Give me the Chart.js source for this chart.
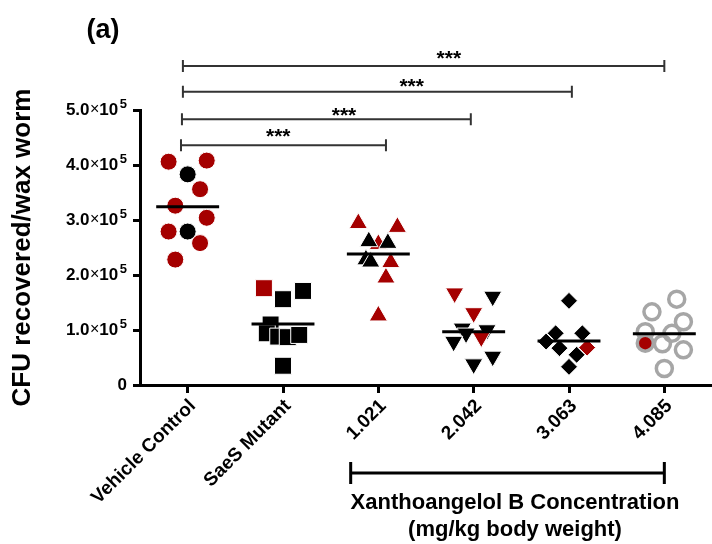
<!DOCTYPE html>
<html>
<head>
<meta charset="utf-8">
<script src="https://cdn.jsdelivr.net/npm/chart.js@4.4.1/dist/chart.umd.min.js"></script>
<style>
  body { margin: 0; background: #fff; }
  #wrap { width: 712px; height: 544px; }
</style>
</head>
<body>
<div id="wrap"><canvas id="cfuChart" width="712" height="544"></canvas></div>
<script>
const groupLabels = ['Vehicle Control', 'SaeS Mutant', '1.021', '2.042', '3.063', '4.085'];
const yTickValues = [0, 1e5, 2e5, 3e5, 4e5, 5e5];
const yTickMantissa = ['0', '1.0', '2.0', '3.0', '4.0', '5.0'];

// CFU per worm, in units of 10^5
const vehicleValues = [4.06, 4.08, 3.83, 3.56, 3.26, 3.04, 2.79, 2.79, 2.58, 2.28];
const vehicleSpread = [-0.2, 0.2, 0, 0.13, -0.13, 0.2, -0.2, 0, 0.13, -0.13];
const vehicleRed = [1, 1, 0, 1, 1, 1, 1, 0, 1, 1];

const mutantValues = [1.76, 1.71, 1.56, 1.10, 0.94, 0.88, 0.87, 0.91, 0.35];
const mutantSpread = [-0.2, 0.21, 0, -0.13, -0.17, -0.05, 0.05, 0.17, 0];
const mutantRed = [1, 0, 0, 0, 0, 0, 0, 0, 0];

const dose1Values = [2.56, 2.94, 2.87, 2.61, 2.58, 2.28, 2.24, 2.23, 1.95, 1.26];
const dose1Spread = [0, -0.21, 0.2, -0.1, 0.1, -0.13, -0.08, 0.13, 0.08, 0];
const dose1Red = [1, 1, 1, 0, 0, 0, 0, 1, 1, 1];

const dose2Values = [1.67, 1.61, 1.31, 1.03, 1.00, 0.94, 0.79, 0.87, 0.52, 0.38];
const dose2Spread = [-0.2, 0.2, 0, -0.12, 0.14, -0.08, -0.21, 0.08, 0.2, 0];
const dose2Red = [1, 0, 1, 0, 0, 0, 0, 1, 0, 0];

const dose3Values = [1.53, 0.94, 0.94, 0.79, 0.67, 0.55, 0.33, 0.68];
const dose3Spread = [0, -0.14, 0.14, -0.24, -0.1, 0.08, 0, 0.19];
const dose3Red = [0, 0, 0, 0, 0, 0, 0, 1];

const dose4Values = [1.56, 1.33, 1.15, 0.97, 0.94, 0.75, 0.64, 0.30, 0.76];
const dose4Spread = [0.13, -0.13, 0.2, -0.2, 0.08, -0.02, 0.2, 0, -0.2];
const dose4Red = [0, 0, 0, 0, 0, 0, 0, 0, 1];

// horizontal line drawn through each group
const meanValues = [3.24, 1.11, 2.38, 0.97, 0.80, 0.93];

// significance brackets (x in group units, y in units of 10^5)
const bracketStart = [-0.07, -0.06, -0.05, -0.05];
const bracketEnd = [2.08, 2.97, 4.03, 5.0];
const bracketLevel = [4.36, 4.83, 5.33, 5.80];
const starX = [0.95, 1.64, 2.35, 2.74];
const starLevel = [4.62, 5.0, 5.53, 6.04];
const starText = ['***', '***', '***', '***'];

const doseBracket = [1.71, 5.0];
const doseTitle = ['Xanthoangelol B Concentration', '(mg/kg body weight)'];

const RED = '#A50000';
const BLACK = '#000000';
const GREY = '#A6A6A6';
const FONT = '"Liberation Sans", Arial, sans-serif';

function toPoints(values, spread, group) {
    return values.map((v, i) => ({ x: group + spread[i], y: v * 1e5 }));
}

function fillFor(redFlags) {
    return redFlags.map(r => r ? RED : BLACK);
}

const groupDatasets = [
    { data: toPoints(vehicleValues, vehicleSpread, 0), pointStyle: 'circle', pointRadius: 8.5,
      pointBackgroundColor: fillFor(vehicleRed), pointBorderColor: '#fff', pointBorderWidth: 1 },
    { data: toPoints(mutantValues, mutantSpread, 1), pointStyle: 'rect', pointRadius: 12,
      pointBackgroundColor: fillFor(mutantRed), pointBorderColor: '#fff', pointBorderWidth: 1 },
    { data: toPoints(dose1Values, dose1Spread, 2), pointStyle: 'triangle', pointRadius: 10.5,
      pointBackgroundColor: fillFor(dose1Red), pointBorderColor: '#fff', pointBorderWidth: 1 },
    { data: toPoints(dose2Values, dose2Spread, 3), pointStyle: 'triangle', pointRotation: 180, pointRadius: 10.5,
      pointBackgroundColor: fillFor(dose2Red), pointBorderColor: '#fff', pointBorderWidth: 1 },
    { data: toPoints(dose3Values, dose3Spread, 4), pointStyle: 'rectRot', pointRadius: 8.5,
      pointBackgroundColor: fillFor(dose3Red), pointBorderColor: '#fff', pointBorderWidth: 1 },
    { data: toPoints(dose4Values, dose4Spread, 5), pointStyle: 'circle', pointRadius: 8,
      pointBackgroundColor: dose4Red.map(r => r ? RED : 'rgba(255,255,255,0)'),
      pointBorderColor: GREY, pointBorderWidth: 3.5 }
].map(ds => Object.assign({ type: 'scatter', order: 2, clip: false }, ds));

const meanDatasets = meanValues.map((m, i) => ({
    type: 'line',
    order: 1,
    data: [{ x: i - 0.33, y: m * 1e5 }, { x: i + 0.33, y: m * 1e5 }],
    borderColor: BLACK,
    borderWidth: 3,
    pointRadius: 0,
    fill: false
}));

const annotationPlugin = {
    id: 'annotations',
    afterDraw(chart) {
        const ctx = chart.ctx;
        const xs = chart.scales.x;
        const ys = chart.scales.y;
        ctx.save();

        // y tick labels with superscript exponent
        ctx.fillStyle = '#000';
        yTickValues.forEach((v, i) => {
            const y = ys.getPixelForValue(v);
            let right = 127;
            ctx.textAlign = 'right';
            ctx.textBaseline = 'middle';
            if (v === 0) {
                ctx.font = 'bold 17px ' + FONT;
                ctx.fillText(yTickMantissa[i], right, y);
                return;
            }
            ctx.font = 'bold 13px ' + FONT;
            ctx.fillText('5', right, y - 6);
            right -= ctx.measureText('5').width + 1.5;
            ctx.font = 'bold 17px ' + FONT;
            ctx.fillText('10', right, y);
            right -= ctx.measureText('10').width;
            ctx.font = '16px ' + FONT;
            ctx.fillText('\u00d7', right, y);
            right -= ctx.measureText('\u00d7').width + 0.5;
            ctx.font = 'bold 17px ' + FONT;
            ctx.fillText(yTickMantissa[i], right, y);
        });

        // significance brackets
        ctx.strokeStyle = '#333';
        ctx.lineWidth = 2;
        bracketLevel.forEach((lvl, i) => {
            const x0 = xs.getPixelForValue(bracketStart[i]);
            const x1 = xs.getPixelForValue(bracketEnd[i]);
            const y = ys.getPixelForValue(lvl * 1e5);
            ctx.beginPath();
            ctx.moveTo(x0, y - 6); ctx.lineTo(x0, y + 6);
            ctx.moveTo(x0, y); ctx.lineTo(x1, y);
            ctx.moveTo(x1, y - 6); ctx.lineTo(x1, y + 6);
            ctx.stroke();
        });
        ctx.font = 'bold 21px ' + FONT;
        ctx.textAlign = 'center';
        ctx.textBaseline = 'alphabetic';
        starText.forEach((t, i) => {
            const x = xs.getPixelForValue(starX[i]);
            const y = ys.getPixelForValue(starLevel[i] * 1e5);
            ctx.fillText(t, x, y + 12);
        });

        // dose bracket under the axis
        const d0 = xs.getPixelForValue(doseBracket[0]);
        const d1 = xs.getPixelForValue(doseBracket[1]);
        const dy = 473;
        ctx.strokeStyle = '#000';
        ctx.lineWidth = 3;
        ctx.beginPath();
        ctx.moveTo(d0, dy - 11); ctx.lineTo(d0, dy + 11);
        ctx.moveTo(d0, dy); ctx.lineTo(d1, dy);
        ctx.moveTo(d1, dy - 11); ctx.lineTo(d1, dy + 11);
        ctx.stroke();
        ctx.font = 'bold 22px ' + FONT;
        ctx.textBaseline = 'middle';
        ctx.fillText(doseTitle[0], 515, 503);
        ctx.fillText(doseTitle[1], 515, 530);

        // panel letter
        ctx.font = 'bold 27px ' + FONT;
        ctx.fillText('(a)', 103, 31);
        ctx.restore();
    }
};

new Chart(document.getElementById('cfuChart').getContext('2d'), {
    data: { datasets: meanDatasets.concat(groupDatasets) },
    options: {
        responsive: false,
        animation: false,
        layout: { autoPadding: false, padding: { top: 110, left: 0, right: 0, bottom: 0 } },
        plugins: {
            legend: { display: false },
            tooltip: { enabled: false }
        },
        scales: {
            x: {
                type: 'linear',
                min: -0.5,
                max: 5.5,
                afterBuildTicks: (scale) => { scale.ticks = groupLabels.map((_, i) => ({ value: i })); },
                afterFit: (scale) => {
                    scale.height = 159;
                    scale.paddingLeft = 0;
                    scale.paddingRight = 0;
                },
                ticks: {
                    autoSkip: false,
                    minRotation: 45,
                    maxRotation: 45,
                    padding: 2,
                    labelOffset: 5,
                    color: '#000',
                    font: { family: FONT, size: 19, weight: 'bold' },
                    callback: (value) => groupLabels[value]
                },
                grid: { drawOnChartArea: false, tickLength: 8, tickWidth: 3, tickColor: '#000' },
                border: { color: '#000', width: 3 }
            },
            y: {
                min: 0,
                max: 5e5,
                afterBuildTicks: (scale) => { scale.ticks = yTickValues.map(v => ({ value: v })); },
                afterFit: (scale) => { scale.width = 140; },
                ticks: { display: false },
                title: {
                    display: true,
                    text: 'CFU recovered/wax worm',
                    color: '#000',
                    padding: { top: 7, bottom: 0 },
                    font: { family: FONT, size: 26, weight: 'bold' }
                },
                grid: { drawOnChartArea: false, tickLength: 7, tickWidth: 3, tickColor: '#000' },
                border: { color: '#000', width: 3 }
            }
        }
    },
    plugins: [annotationPlugin]
});
</script>
</body>
</html>
